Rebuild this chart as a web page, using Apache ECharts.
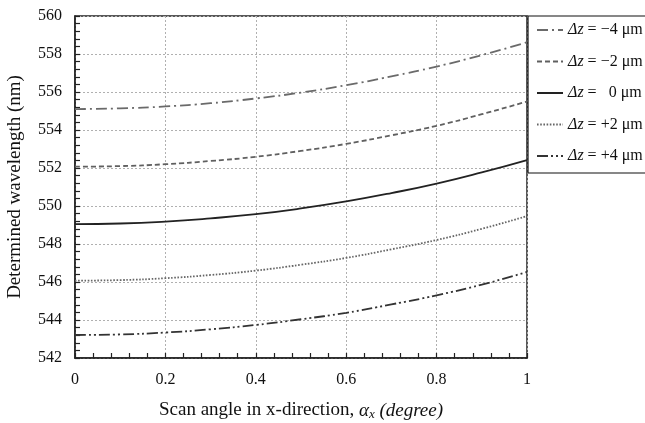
<!DOCTYPE html>
<html>
<head>
<meta charset="utf-8">
<script src="https://cdn.jsdelivr.net/npm/echarts@6/dist/echarts.min.js"></script>
<style>
html,body{margin:0;padding:0;background:#fff;}
#chart{width:645px;height:423px;}
</style>
</head>
<body>
<div id="chart"></div>
<script>
const xValues = [0, 0.1, 0.2, 0.3, 0.4, 0.5, 0.6, 0.7, 0.8, 0.9, 1.0];
const seriesNames = ['Δz = −4 μm', 'Δz = −2 μm', 'Δz =   0 μm', 'Δz = +2 μm', 'Δz = +4 μm'];
const dzMinus4 = [555.10, 555.14, 555.24, 555.41, 555.66, 555.97, 556.36, 556.82, 557.34, 557.94, 558.62];
const dzMinus2 = [552.07, 552.10, 552.20, 552.37, 552.59, 552.90, 553.27, 553.72, 554.22, 554.83, 555.50];
const dzZero   = [549.05, 549.08, 549.18, 549.35, 549.57, 549.87, 550.24, 550.68, 551.18, 551.77, 552.42];
const dzPlus2  = [546.07, 546.10, 546.20, 546.37, 546.60, 546.91, 547.27, 547.72, 548.21, 548.80, 549.47];
const dzPlus4  = [543.21, 543.24, 543.34, 543.51, 543.74, 544.04, 544.38, 544.82, 545.30, 545.86, 546.53];
const xTicks = [0, 0.2, 0.4, 0.6, 0.8, 1];
const yTicks = [542, 544, 546, 548, 550, 552, 554, 556, 558, 560];

const allSeries = [dzMinus4, dzMinus2, dzZero, dzPlus2, dzPlus4];
const styles = [
  {color:'#6a6a6a', type:[11,4,2,4], width:1.8},
  {color:'#606060', type:[5,3], width:1.8},
  {color:'#222222', type:'solid', width:1.8},
  {color:'#666666', type:[1.6,1.6], width:1.8},
  {color:'#333333', type:[11,3,2,3,2,3], width:1.8}
];
const FONT = '"Liberation Serif","Times New Roman",serif';

const chart = echarts.init(document.getElementById('chart'), null, {renderer:'canvas'});
chart.setOption({
  animation:false,
  backgroundColor:'#fff',
  textStyle:{fontFamily:FONT},
  grid:{left:75, right:118, top:16, bottom:65, show:true, borderColor:'#222', borderWidth:1.5, backgroundColor:'transparent', containLabel:false, outerBoundsMode:'none'},
  legend:{
    orient:'vertical',
    left:528, top:16,
    padding:[6,20,9,8],
    itemGap:15.5,
    itemWidth:26, itemHeight:14,
    borderColor:'#111', borderWidth:1.2,
    itemStyle:{opacity:0},
    data:seriesNames,
    formatter:function(n){
      const rest = n.slice(2);
      return '{i|Δz}{r|' + rest + '}';
    },
    textStyle:{
      fontFamily:FONT, fontSize:16, color:'#111',
      rich:{
        i:{fontFamily:FONT, fontStyle:'italic', fontSize:16, color:'#111'},
        r:{fontFamily:FONT, fontSize:16, color:'#111'}
      }
    }
  },
  xAxis:{
    type:'value', min:0, max:1, interval:0.2,
    name:'{a|Scan angle in x-direction, }{g|α}{s|x}{a| }{g|(degree)}',
    nameLocation:'middle', nameGap:42,
    nameTextStyle:{
      rich:{
        a:{fontFamily:FONT, fontSize:19, color:'#111'},
        g:{fontFamily:FONT, fontSize:19, fontStyle:'italic', color:'#111'},
        s:{fontFamily:FONT, fontSize:13, fontStyle:'italic', color:'#111', verticalAlign:'bottom', padding:[8,0,0,0]}
      }
    },
    axisLine:{show:true, lineStyle:{color:'#222', width:1.5}},
    axisTick:{show:true, inside:true, length:5, lineStyle:{color:'#222', width:1.2}},
    minorTick:{show:true, splitNumber:5, length:5, lineStyle:{color:'#222', width:1.2}},
    axisLabel:{fontFamily:FONT, fontSize:16, color:'#111', margin:14,
      formatter:function(v){ return xTicks.indexOf(Math.round(v*10)/10) >= 0 ? String(Math.round(v*10)/10) : ''; }},
    splitLine:{show:true, lineStyle:{color:'#b0b0b0', type:[2,2], width:1}}
  },
  yAxis:{
    type:'value', min:yTicks[0], max:yTicks[yTicks.length-1], interval:2,
    name:'Determined wavelength (nm)',
    nameLocation:'middle', nameGap:50,
    nameTextStyle:{fontFamily:FONT, fontSize:19, color:'#111'},
    axisLine:{show:true, lineStyle:{color:'#222', width:1.5}},
    axisTick:{show:true, inside:true, length:5, lineStyle:{color:'#222', width:1.2}},
    minorTick:{show:true, splitNumber:5, length:5, lineStyle:{color:'#222', width:1.2}},
    axisLabel:{fontFamily:FONT, fontSize:16, color:'#111', margin:13},
    splitLine:{show:true, lineStyle:{color:'#b0b0b0', type:[2,2], width:1}}
  },
  series: allSeries.map(function(arr, i){
    return {
      name:seriesNames[i],
      type:'line',
      smooth:true,
      symbol:'none',
      data: xValues.map(function(x, j){ return [x, arr[j]]; }),
      lineStyle:styles[i],
      itemStyle:{color:styles[i].color}
    };
  })
});
</script>
</body>
</html>
